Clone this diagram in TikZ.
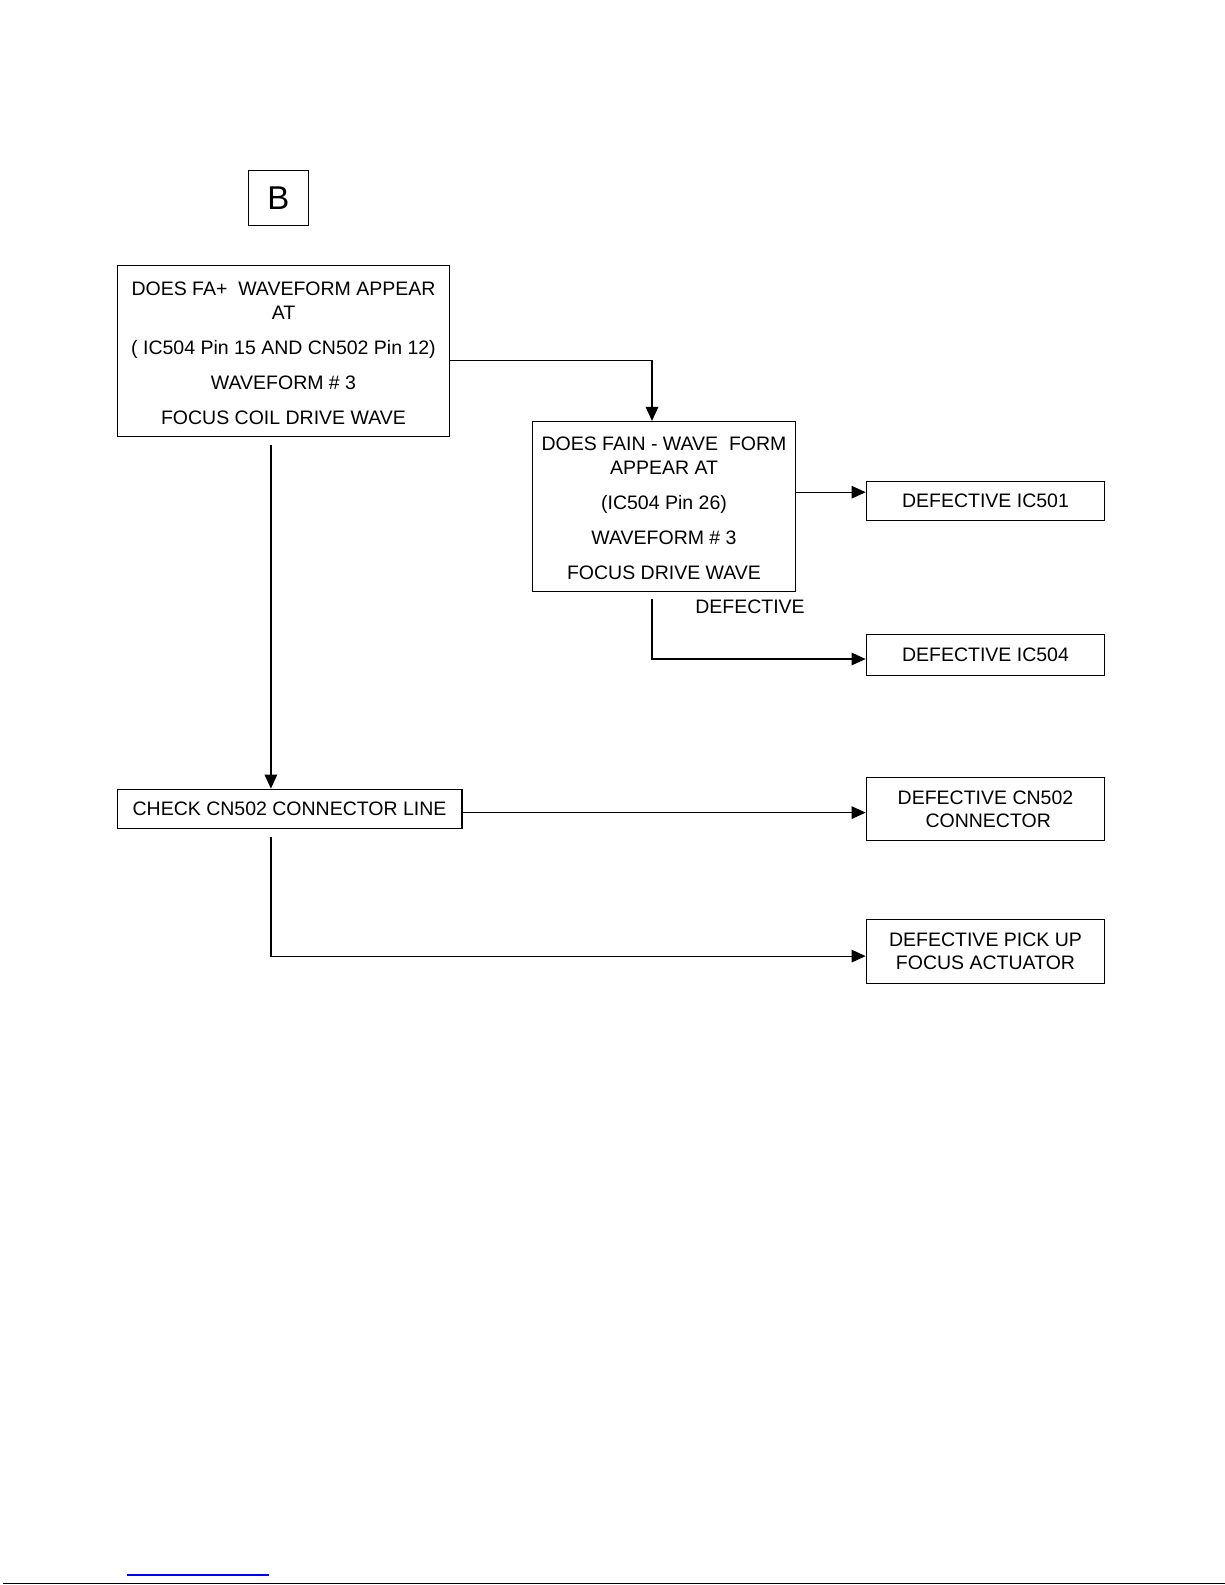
\documentclass[tikz,border=0pt]{standalone}
\usepackage{fontspec}
\setmainfont{Liberation Sans}
\usetikzlibrary{arrows.meta}
\begin{document}
\begin{tikzpicture}[x=1pt,y=-1pt,
  box/.style={draw,line width=1.2pt,inner sep=0pt,align=center,anchor=center,
    font=\fontsize{19.5}{24}\selectfont},
  conn/.style={line width=1.2pt},
  arr/.style={conn,-{Triangle[length=14pt,width=12.5pt]}}]
\useasboundingbox (0,0) rectangle (1225,1585);
\fill[white] (0,0) rectangle (1225,1585);
% label B
\node[box,minimum width=59.7pt,minimum height=54.6pt,font=\fontsize{33}{36}\selectfont] (lb) at (278.5,198.1) {B};
% boxes
\node[box,minimum width=332.6pt,minimum height=170.8pt] (q1) at (283.5,351.2)
 {\rule{0pt}{17pt}DOES FA+ \ WAVEFORM APPEAR\\ AT\\[11pt] ( IC504 Pin 15 AND CN502 Pin 12)\\[11pt] WAVEFORM \# 3\\[11pt] FOCUS COIL DRIVE WAVE};
\node[box,minimum width=262.8pt,minimum height=169.8pt] (q2) at (664,506.4)
 {\rule{0pt}{17pt}DOES FAIN - WAVE \ FORM\\ APPEAR AT\\[11pt] (IC504 Pin 26)\\[11pt] WAVEFORM \# 3\\[11pt] FOCUS DRIVE WAVE};
\node[box,minimum width=238.5pt,minimum height=39.4pt] (d501) at (985.5,500.8) {DEFECTIVE IC501};
\node[box,minimum width=238.5pt,minimum height=40.4pt] (d504) at (985.5,654.9) {DEFECTIVE IC504};
\node[box,minimum width=344.7pt,minimum height=39.5pt] (chk) at (289.6,809) {CHECK CN502 CONNECTOR LINE};
\node[box,minimum width=238.5pt,minimum height=63.7pt,font=\fontsize{19.5}{23}\selectfont] (dcn) at (985.5,809) {DEFECTIVE CN502\\ \ CONNECTOR};
\node[box,minimum width=238.5pt,minimum height=63.7pt,font=\fontsize{19.5}{23}\selectfont] (dpu) at (985.5,951.6) {DEFECTIVE PICK UP\\FOCUS ACTUATOR};
\node[font=\fontsize{19.5}{24}\selectfont] (lbl) at (750,607) {DEFECTIVE};
% helper coordinates
\coordinate (c1) at (652,360.8);
\coordinate (c2) at (0,492.2);
\coordinate (c3) at (652,599.3);
\coordinate (c4) at (0,659);
\coordinate (c5) at (270.9,444.7);
\coordinate (c6) at (0,812.6);
\coordinate (c7) at (270.9,836.9);
\coordinate (c8) at (0,956.1);
% connectors
\draw[arr] (q1.east |- c1) -| (q2.north -| c1);
\draw[arr] (q2.east |- c2) -- (d501.west |- c2);
\draw[arr] (c3) |- (d504.west |- c4);
\draw[arr] (c5) -- (chk.north -| c5);
\draw[arr] (chk.east |- c6) -- (dcn.west |- c6);
\draw[arr] (c7) |- (dpu.west |- c8);
% bottom rules
\coordinate (b1) at (127,1575);
\coordinate (b2) at (269,1575);
\draw[blue,line width=1.2pt] (b1) -- (b2);
\coordinate (b3) at (3,1583.5);
\coordinate (b4) at (1225,1583.5);
\draw[line width=1.6pt] (b3) -- (b4);
\end{tikzpicture}
\end{document}
